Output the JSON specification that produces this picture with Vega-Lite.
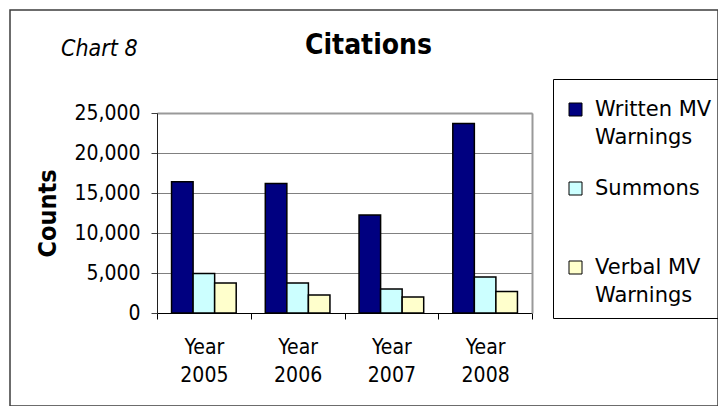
{
  "$schema": "https://vega.github.io/schema/vega-lite/v6.json",
  "width": 708,
  "height": 396,
  "autosize": "none",
  "padding": {"left": 10, "top": 10, "right": 0, "bottom": 0},
  "background": "white",
  "config": {
    "font": "DejaVu Sans Condensed",
    "view": {"stroke": "#3c3c3c", "strokeWidth": 1.5},
    "axis": {"labelColor": "#000", "titleColor": "#000"},
    "style": {"guide-label": {"lineHeight": 28}}
  },
  "title": {
    "text": "Chart 8",
    "anchor": "start",
    "frame": "group",
    "dx": 51,
    "offset": -69,
    "baseline": "alphabetic",
    "fontStyle": "italic",
    "fontWeight": "normal",
    "fontSize": 23,
    "color": "#000"
  },
  "data": {
    "values": [
      {"year": "Year 2005", "type": "Written MV Warnings", "count": 16400},
      {"year": "Year 2005", "type": "Summons", "count": 4950},
      {"year": "Year 2005", "type": "Verbal MV Warnings", "count": 3750},
      {"year": "Year 2006", "type": "Written MV Warnings", "count": 16200},
      {"year": "Year 2006", "type": "Summons", "count": 3750},
      {"year": "Year 2006", "type": "Verbal MV Warnings", "count": 2250},
      {"year": "Year 2007", "type": "Written MV Warnings", "count": 12250},
      {"year": "Year 2007", "type": "Summons", "count": 3000},
      {"year": "Year 2007", "type": "Verbal MV Warnings", "count": 2000},
      {"year": "Year 2008", "type": "Written MV Warnings", "count": 23700},
      {"year": "Year 2008", "type": "Summons", "count": 4500},
      {"year": "Year 2008", "type": "Verbal MV Warnings", "count": 2700}
    ]
  },
  "encoding": {
    "xOffset": {
      "field": "type",
      "type": "nominal",
      "sort": ["Written MV Warnings", "Summons", "Verbal MV Warnings"],
      "scale": {"paddingInner": 0, "paddingOuter": 0.675}
    },
    "color": {
      "field": "type",
      "type": "nominal",
      "sort": ["Written MV Warnings", "Summons", "Verbal MV Warnings"],
      "scale": {
        "domain": ["Written MV Warnings", "Summons", "Verbal MV Warnings"],
        "range": ["#000080", "#CCFFFF", "#FFFFCC"]
      },
      "legend": {
        "orient": "none",
        "legendX": 543,
        "legendY": 69,
        "title": " ",
        "titleFontSize": 4,
        "titlePadding": 4,
        "strokeColor": "#000",
        "padding": 12,
        "symbolType": "square",
        "symbolSize": 169,
        "symbolStrokeColor": "#000",
        "symbolStrokeWidth": 1,
        "labelFont": "DejaVu Sans",
        "labelFontSize": 21,
        "labelColor": "#000",
        "labelOffset": 9,
        "labelLimit": 300,
        "labelBaseline": "middle",
        "rowPadding": 29,
        "labelExpr": "datum.label == 'Summons' ? ['Summons', ''] : [replace(datum.label, ' Warnings', ''), 'Warnings']"
      }
    }
  },
  "layer": [
    {
      "mark": {"type": "bar", "stroke": "#000", "strokeWidth": 1.5},
      "encoding": {
        "x": {
          "field": "year",
          "type": "nominal",
          "scale": {"range": [147, 522], "padding": 0},
          "axis": {
            "orient": "bottom",
            "offset": -93,
            "title": null,
            "labelAngle": 0,
            "labelExpr": "split(datum.label, ' ')",
            "labelFontSize": 21,
            "labelLineHeight": 28,
            "labelBaseline": "top",
            "labelPadding": 17,
            "tickBand": "extent",
            "tickSize": 6,
            "tickColor": "#000",
            "domainColor": "#000",
            "grid": false
          }
        },
        "y": {
          "field": "count",
          "type": "quantitative",
          "scale": {"domain": [0, 25000], "range": [303, 103], "nice": false},
          "axis": {
            "orient": "left",
            "offset": -147,
            "title": "Counts",
            "titleFontSize": 25,
            "titleFontWeight": "bold",
            "titleX": -110,
            "titleBaseline": "middle",
            "values": [0, 5000, 10000, 15000, 20000, 25000],
            "format": ",.0f",
            "labelFontSize": 21,
            "labelPadding": 11,
            "tickSize": 6,
            "tickColor": "#404040",
            "domainColor": "#202020",
            "grid": true,
            "gridColor": "#808080"
          }
        }
      }
    },
    {
      "mark": {"type": "bar", "opacity": 0},
      "encoding": {
        "x": {
          "field": "year",
          "type": "nominal",
          "scale": {"range": [147, 522], "padding": 0},
          "axis": {
            "orient": "top",
            "offset": -103,
            "domain": true,
            "domainColor": "#999999",
            "domainWidth": 2,
            "ticks": false,
            "labels": false,
            "grid": false,
            "title": "Citations",
            "titleFontSize": 28,
            "titleFontWeight": "bold",
            "titleX": 358,
            "titleY": -60,
            "titleAlign": "center",
            "titleBaseline": "alphabetic"
          }
        },
        "y": {
          "field": "count",
          "type": "quantitative",
          "scale": {"domain": [0, 25000], "range": [303, 103], "nice": false},
          "axis": {
            "orient": "right",
            "offset": -186,
            "domain": true,
            "domainColor": "#999999",
            "domainWidth": 2,
            "ticks": false,
            "labels": false,
            "grid": false,
            "title": null
          }
        }
      }
    }
  ],
  "resolve": {"axis": {"x": "independent", "y": "independent"}}
}
